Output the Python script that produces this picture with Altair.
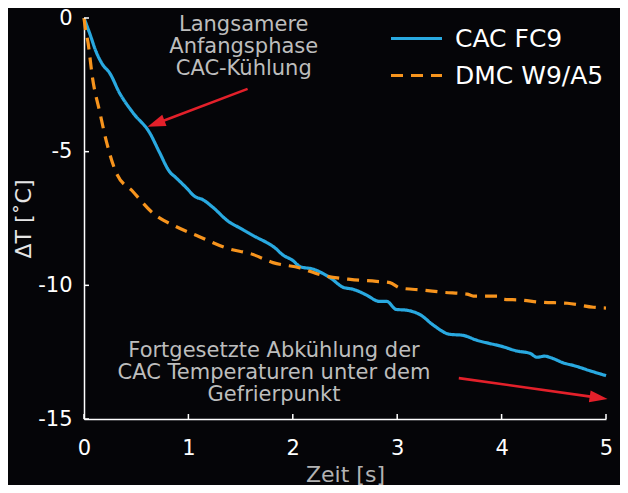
import altair as alt
import pandas as pd

# ---- data ----
series = ["CAC FC9", "DMC W9/A5"]
colors = ["#29a9e0", "#f7941d"]
dashes = [[1, 0], [12, 8]]

t_cac = [0, 0.053, 0.12, 0.18, 0.245, 0.34, 0.47, 0.63, 0.72, 0.82, 0.88, 0.98, 1.06, 1.14,
         1.24, 1.38, 1.49, 1.65, 1.75, 1.83, 1.9, 2.0, 2.07, 2.2, 2.26, 2.37, 2.48, 2.58, 2.7,
         2.83, 2.9, 2.99, 3.09, 3.22, 3.35, 3.5, 3.63, 3.76, 3.88, 3.99, 4.15, 4.27, 4.34,
         4.41, 4.5, 4.59, 4.69, 4.85, 5.0]
dt_cac = [0, -0.56, -1.3, -1.75, -2.05, -2.8, -3.55, -4.3, -5.0, -5.75, -5.97, -6.35, -6.67, -6.8,
          -7.1, -7.6, -7.85, -8.2, -8.4, -8.6, -8.85, -9.07, -9.3, -9.4, -9.5, -9.75, -10.07, -10.15, -10.35,
          -10.6, -10.6, -10.9, -10.93, -11.1, -11.5, -11.83, -11.87, -12.05, -12.17, -12.27, -12.46, -12.54, -12.69,
          -12.65, -12.75, -12.9, -13.0, -13.2, -13.38]

t_dmc = [0, 0.01, 0.04, 0.08, 0.15, 0.22, 0.31, 0.47, 0.66, 0.88, 1.1, 1.36, 1.62, 1.81, 2.07,
         2.26, 2.55, 2.8, 2.93, 3.03, 3.25, 3.44, 3.67, 3.73, 3.96, 4.02, 4.18, 4.37, 4.63, 4.88, 5.0]
dt_dmc = [0, -0.3, -0.95, -2.2, -3.5, -4.7, -5.8, -6.5, -7.3, -7.8, -8.17, -8.6, -8.85, -9.15, -9.35,
          -9.6, -9.78, -9.85, -9.9, -10.1, -10.18, -10.26, -10.33, -10.4, -10.4, -10.52, -10.55, -10.63, -10.67, -10.82, -10.85]

x_ticks = [0, 1, 2, 3, 4, 5]
y_ticks = [0, -5, -10, -15]

notes = ["Langsamere\nAnfangsphase\nCAC-Kühlung",
         "Fortgesetzte Abkühlung der\nCAC Temperaturen unter dem\nGefrierpunkt"]
note_x = [1.53, 1.82]
note_y = [0.16, -12.05]

arrow_tail_x = [1.567, 3.59]
arrow_tail_y = [-2.65, -13.47]
arrow_shaft_end_x = [0.698, 4.92]
arrow_shaft_end_y = [-3.94, -14.20]
arrow_tip_x = [0.609, 5.015]
arrow_tip_y = [-4.07, -14.25]
arrow_angle = [249, 98.5]

FONT = "DejaVu Sans"
W, H = 522, 401

lines_df = pd.concat([
    pd.DataFrame({"t": t_cac, "dT": dt_cac, "Serie": series[0], "o": range(len(t_cac))}),
    pd.DataFrame({"t": t_dmc, "dT": dt_dmc, "Serie": series[1], "o": range(len(t_dmc))}),
])
xt_df = pd.DataFrame({"t": x_ticks})
yt_df = pd.DataFrame({"dT": y_ticks})
notes_df = pd.DataFrame({"t": note_x, "dT": note_y, "txt": notes})
arrows_df = pd.DataFrame({"t": arrow_tail_x, "dT": arrow_tail_y,
                          "t2": arrow_shaft_end_x, "dT2": arrow_shaft_end_y,
                          "tt": arrow_tip_x, "tdT": arrow_tip_y, "ang": arrow_angle})

xscale = alt.Scale(domain=[0, 5], nice=False, zero=False)
yscale = alt.Scale(domain=[-15, 0], nice=False, zero=False)

legend = alt.Legend(
    title=None, orient="none", legendX=305, legendY=2,
    symbolType="stroke", symbolSize=2601, symbolStrokeWidth=3.2,
    labelFont=FONT, labelFontSize=25, labelColor="#ffffff", labelOffset=11,
    clipHeight=37, rowPadding=0, padding=0,
)

lines = alt.Chart(lines_df).mark_line(strokeWidth=3.2, interpolate="monotone").encode(
    x=alt.X("t:Q", scale=xscale, axis=alt.Axis(
        values=x_ticks, title="Zeit [s]", labelPadding=18, titlePadding=6,
        titleColor="#b3b3b3", format="d", labelFlush=False)),
    y=alt.Y("dT:Q", scale=yscale, axis=alt.Axis(
        values=y_ticks, title="ΔT [˚C]", labelPadding=12, titlePadding=2,
        titleColor="#e6e6e6", labelFlush=False,
        labelExpr="datum.value < 0 ? '-' + abs(datum.value) : '' + datum.value")),
    color=alt.Color("Serie:N", scale=alt.Scale(domain=series, range=colors), legend=legend),
    strokeDash=alt.StrokeDash("Serie:N", scale=alt.Scale(domain=series, range=dashes), legend=legend),
    order="o:Q",
)

xticks = alt.Chart(xt_df).mark_rule(color="#ffffff", strokeWidth=1.5).encode(
    x=alt.X("t:Q", scale=xscale), y=alt.value(H), y2=alt.value(H - 5))
yticks = alt.Chart(yt_df).mark_rule(color="#ffffff", strokeWidth=1.5).encode(
    y=alt.Y("dT:Q", scale=yscale), x=alt.value(0), x2=alt.value(5))

texts = alt.Chart(notes_df).mark_text(
    font=FONT, fontSize=21, lineHeight=22, color="#bdbdbd", align="center",
    baseline="top", lineBreak="\n").encode(
    x=alt.X("t:Q", scale=xscale), y=alt.Y("dT:Q", scale=yscale), text="txt:N")

shafts = alt.Chart(arrows_df).mark_rule(color="#e3202a", strokeWidth=2.6).encode(
    x=alt.X("t:Q", scale=xscale), y=alt.Y("dT:Q", scale=yscale), x2="t2:Q", y2="dT2:Q")
heads = alt.Chart(arrows_df).mark_point(
    shape="M0,0L0.33,1L-0.33,1Z", size=1296, filled=True, color="#e3202a", opacity=1).encode(
    x=alt.X("tt:Q", scale=xscale), y=alt.Y("tdT:Q", scale=yscale), angle=alt.Angle("ang:Q", scale=None))

chart = alt.layer(lines, xticks, yticks, texts, shafts, heads).properties(
    width=W, height=H, background="#050508",
    autosize=alt.AutoSizeParams(type="none"),
    padding={"left": 76, "top": 10, "right": 14, "bottom": 66},
).configure_view(stroke=None).configure_axis(
    grid=False, domainColor="#ffffff", domainWidth=1.5, tickSize=0,
    labelColor="#ffffff", labelFont=FONT, labelFontSize=21,
    titleFont=FONT, titleFontSize=22, titleFontWeight="normal",
)

chart.save("out.html", embed_options={"renderer": "svg", "actions": False})
